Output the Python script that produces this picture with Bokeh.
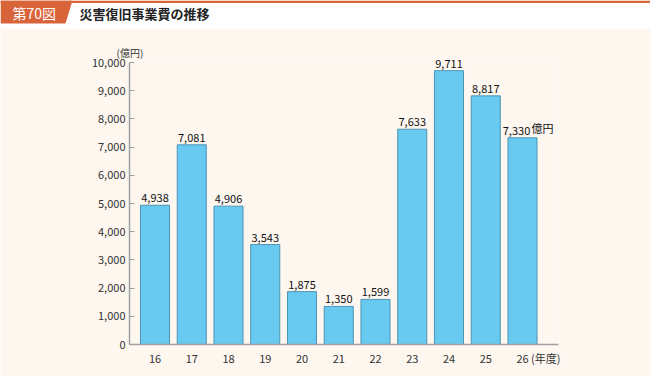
from bokeh.plotting import figure
from bokeh.models import Range1d, FixedTicker, NumeralTickFormatter, Label, ColumnDataSource, LinearAxis
from bokeh.core.properties import value
from bokeh.embed import file_html
from bokeh.resources import INLINE

years = [16, 17, 18, 19, 20, 21, 22, 23, 24, 25, 26]
amounts = [4938, 7081, 4906, 3543, 1875, 1350, 1599, 7633, 9711, 8817, 7330]
y_ticks = [0, 1000, 2000, 3000, 4000, 5000, 6000, 7000, 8000, 9000, 10000]
fig_label = "第70図"
title = "災害復旧事業費の推移"
y_unit = "(億円)"
x_unit = "(年度)"
last_unit = "億円"

FONT = "Noto Sans CJK JP"
CREAM = "#fdf7f0"
ORANGE = "#d9643a"

# ---- header ----
h = figure(width=650, height=28, x_range=Range1d(0, 650), y_range=Range1d(28, 0),
           output_backend="svg", toolbar_location=None, min_border=0)
h.axis.visible = False
h.grid.visible = False
h.outline_line_color = None
h.background_fill_color = "white"
h.border_fill_color = "white"
h.quad(left=[0], right=[650], top=[0], bottom=[2.5], fill_color=ORANGE, line_color=None)
h.patch(x=[0, 72, 65, 0], y=[0, 0, 23, 23], fill_color=ORANGE, line_color=None)
h.text(x=[12], y=[12.5], text=[fig_label], text_color="white", text_font=value(FONT),
       text_font_size="14px", text_baseline="middle", text_align="left")
h.text(x=[79], y=[12.5], text=[title], text_color="#222222", text_font=value(FONT),
       text_font_size="13px", text_font_style="bold", text_baseline="middle", text_align="left")

# ---- main chart ----
px_per_year = 36.75
x0 = years[0] - 25.5 / px_per_year
x1 = x0 + 429 / px_per_year
y_top = 10000 * 287 / 282
p = figure(width=650, height=348, x_range=Range1d(x0, x1), y_range=Range1d(0, y_top),
           output_backend="svg", toolbar_location=None,
           min_border_left=129, min_border_right=92, min_border_top=29, min_border_bottom=32)
p.background_fill_color = CREAM
p.border_fill_color = CREAM
p.outline_line_color = None
p.grid.visible = False

src = ColumnDataSource(dict(x=years, top=amounts,
                            lbl=[f"{v:,}" for v in amounts[:-1]] + [""]))
p.vbar(x="x", top="top", width=0.79, source=src, fill_color="#68c9f1",
       line_color="#4d94b3", line_width=1)
p.text(x="x", y="top", text="lbl", source=src, text_align="center", text_baseline="bottom",
       y_offset=-3, text_font=value(FONT), text_font_size="11px", text_color="#111111")
p.add_layout(Label(x=years[-1], y=amounts[-1], text=f"{amounts[-1]:,}", x_offset=-6, y_offset=3,
                   text_align="center", text_baseline="bottom", text_font=FONT,
                   text_font_size="11px", text_color="#111111"))
p.add_layout(Label(x=years[-1], y=amounts[-1], text=last_unit, x_offset=9, y_offset=2,
                   text_align="left", text_baseline="bottom", text_font=FONT,
                   text_font_size="11px", text_color="#111111"))

p.yaxis.ticker = FixedTicker(ticks=y_ticks)
p.yaxis.bounds = (y_ticks[0], y_ticks[-1])
p.yaxis.formatter = NumeralTickFormatter(format="0,0")
p.yaxis.major_tick_in = 5
p.yaxis.major_tick_out = 0
p.yaxis.minor_tick_line_color = None
p.yaxis.axis_line_color = "#a0a0a0"
p.yaxis.axis_line_width = 1.5
p.yaxis.major_tick_line_color = "#a0a0a0"
p.yaxis.major_label_text_font = FONT
p.yaxis.major_label_text_font_size = "11px"
p.yaxis.major_label_text_color = "#333333"
p.yaxis.major_label_standoff = 4

unit_tick = years[-1] + 0.63
p.xaxis.ticker = FixedTicker(ticks=years + [unit_tick])
p.xaxis.major_label_overrides = {unit_tick: x_unit}
p.xaxis.major_tick_in = 0
p.xaxis.major_tick_out = 0
p.xaxis.minor_tick_line_color = None
p.xaxis.axis_line_color = "#a0a0a0"
p.xaxis.axis_line_width = 1.5
p.xaxis.major_label_text_font = FONT
p.xaxis.major_label_text_font_size = "11px"
p.xaxis.major_label_text_color = "#333333"
p.xaxis.major_label_standoff = 5

# unit label above the y axis, via a label-only axis in pixel units
p.extra_x_ranges = {"px": Range1d(-0.5, 428.5)}
top_axis = LinearAxis(x_range_name="px", ticker=FixedTicker(ticks=[0]),
                      major_label_overrides={0: y_unit})
top_axis.axis_line_color = None
top_axis.major_tick_line_color = None
top_axis.minor_tick_line_color = None
top_axis.major_tick_in = 0
top_axis.major_tick_out = 0
top_axis.major_label_standoff = -2
top_axis.major_label_text_font = FONT
top_axis.major_label_text_font_size = "10px"
top_axis.major_label_text_color = "#333333"
p.add_layout(top_axis, "above")

open("out.html", "w").write(file_html([h, p], INLINE))
